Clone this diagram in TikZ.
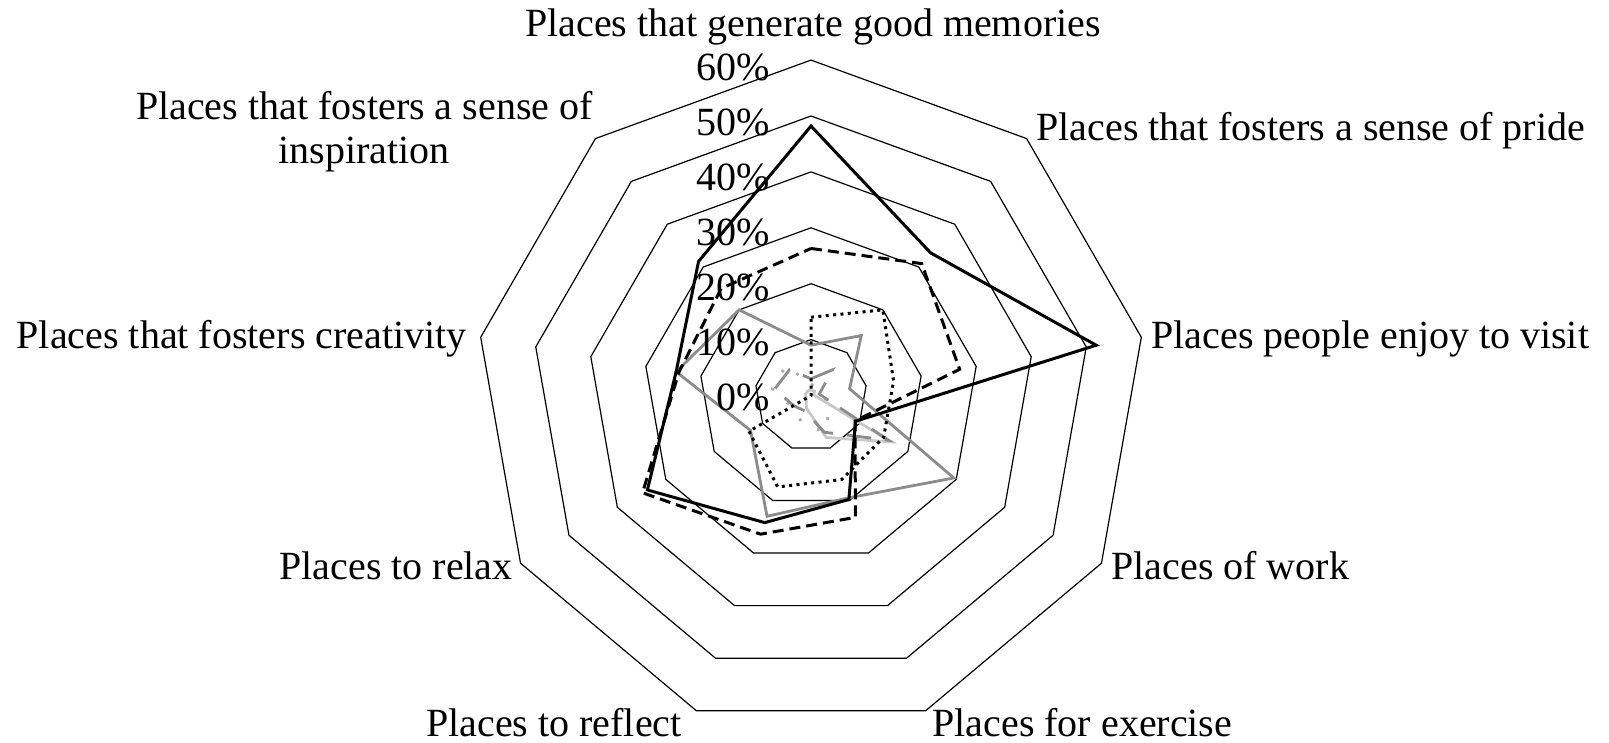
\documentclass[tikz,border=0pt]{standalone}
\usepackage{fontspec}
\setmainfont{Liberation Serif}
\newcommand{\radstep}{5.59}
\tikzset{
  ring/.style={draw=black, line width=0.6pt},
  catlabel/.style={inner sep=0pt, font=\fontsize{20}{22}\selectfont},
  ticklabel/.style={inner sep=0pt, anchor=east, font=\fontsize{20}{22}\selectfont},
  serblack/.style={draw=black, line width=1.5pt},
  serdashed/.style={draw=black, line width=1.5pt, dash pattern={on 5.5pt off 3pt}},
  serdotted/.style={draw=black, line width=1.5pt, dash pattern={on 1.5pt off 2.2pt}},
  sergray/.style={draw={rgb,255:red,140;green,140;blue,140}, line width=1.4pt},
  sergraydash/.style={draw={rgb,255:red,140;green,140;blue,140}, line width=1.4pt, dash pattern={on 12pt off 7pt}},
  serlight/.style={draw={rgb,255:red,200;green,200;blue,200}, line width=1.4pt},
  serlightdot/.style={draw={rgb,255:red,170;green,170;blue,170}, line width=1.4pt, dash pattern={on 1.4pt off 9pt}}
}
\begin{document}
\begin{tikzpicture}[x=0.5pt,y=0.5pt]
\useasboundingbox (0,0) rectangle (1609,-743);

\begin{scope}[shift={(811,-395.5)}]
%Shape: Rings 10% .. 60%
\foreach \r in {1,...,6}
  \draw[ring] (90:\r*55.9) \foreach \k in {1,...,8} { -- (90-40*\k:\r*55.9) } -- cycle;

%Series: light gray dotted
\draw[serlightdot] (90:2*\radstep) -- (50:2*\radstep) -- (10:2*\radstep) -- (-30:4*\radstep) -- (-70:7*\radstep) -- (-110:5*\radstep) -- (-150:4*\radstep) -- (170:7*\radstep) -- (130:7*\radstep) -- cycle;
%Series: light gray
\draw[serlight] (90:1*\radstep) -- (50:1*\radstep) -- (10:0.5*\radstep) -- (-30:16.6*\radstep) -- (-70:8*\radstep) -- (-110:2.4*\radstep) -- (-150:1*\radstep) -- (170:1*\radstep) -- (130:1*\radstep) -- cycle;
%Series: gray dashed
\draw[sergraydash] (90:3*\radstep) -- (50:6*\radstep) -- (10:1.5*\radstep) -- (-30:16*\radstep) -- (-70:7*\radstep) -- (-110:3*\radstep) -- (-150:3.6*\radstep) -- (170:6.6*\radstep) -- (130:6*\radstep) -- cycle;
%Series: gray
\draw[sergray] (90:9*\radstep) -- (50:14*\radstep) -- (10:7*\radstep) -- (-30:29.5*\radstep) -- (-70:19.5*\radstep) -- (-110:23*\radstep) -- (-150:12.5*\radstep) -- (170:24.5*\radstep) -- (130:20*\radstep) -- cycle;
%Series: black dotted
\draw[serdotted] (90:14*\radstep) -- (50:20*\radstep) -- (10:15*\radstep) -- (-30:15*\radstep) -- (-70:16*\radstep) -- (-110:17.4*\radstep) -- (-150:12.8*\radstep) -- (170:0*\radstep) -- (130:0*\radstep) -- cycle;
%Series: black dashed
\draw[serdashed] (90:26.3*\radstep) -- (50:30.8*\radstep) -- (10:27*\radstep) -- (-30:9.1*\radstep) -- (-70:23.2*\radstep) -- (-110:26.4*\radstep) -- (-150:34.8*\radstep) -- (170:24*\radstep) -- (130:25*\radstep) -- cycle;
%Series: black
\draw[serblack] (90:48.2*\radstep) -- (50:33.3*\radstep) -- (10:51.8*\radstep) -- (-30:9.2*\radstep) -- (-70:19.8*\radstep) -- (-110:24.2*\radstep) -- (-150:33.8*\radstep) -- (170:24.5*\radstep) -- (130:31.3*\radstep) -- cycle;

% Text Node: axis values
\foreach \p [evaluate=\p as \lab using int(10*\p)] in {0,...,6}
  \node[ticklabel] (tick\p) at (-41,\p*55-1.5) {\lab\%};
\end{scope}

% Text Node
\node[catlabel] (memories) at (813,-27) {Places that generate good memories};
% Text Node
\node[catlabel, anchor=west] (pride) at (1036,-131) {Places that fosters a sense of pride};
% Text Node
\node[catlabel, anchor=west] (visit) at (1151,-339) {Places people enjoy to visit};
% Text Node
\node[catlabel, anchor=west] (work) at (1111,-566) {Places of work};
% Text Node
\node[catlabel, anchor=west] (exercise) at (932,-723) {Places for exercise};
% Text Node
\node[catlabel, anchor=east] (reflect) at (682,-723) {Places to reflect};
% Text Node
\node[catlabel, anchor=east] (relax) at (513,-566) {Places to relax};
% Text Node
\node[catlabel, anchor=east] (creativity) at (467,-339) {Places that fosters creativity};
% Text Node
\node[catlabel, anchor=east, align=center] (inspiration) at (593,-132) {Places that fosters a sense of\\inspiration};
\end{tikzpicture}
\end{document}
